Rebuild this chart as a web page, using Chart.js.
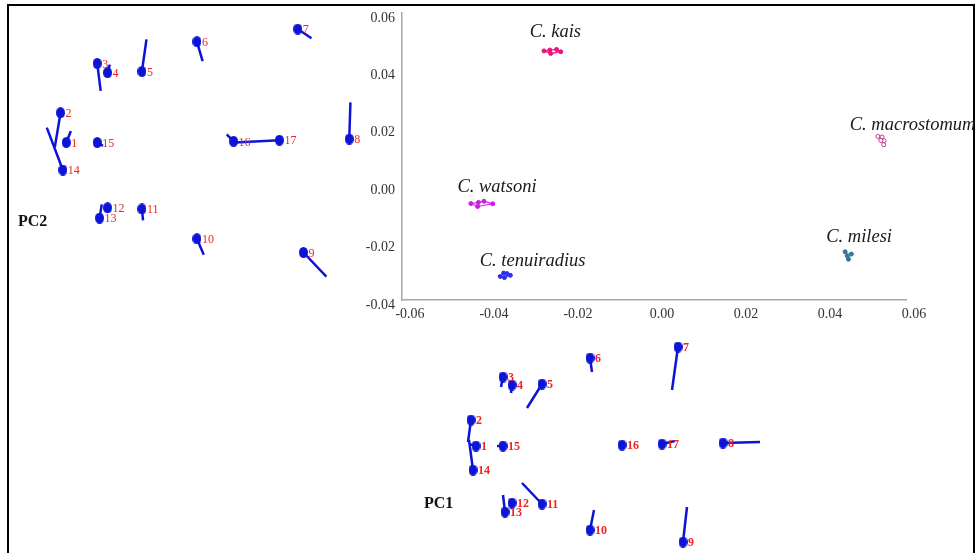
<!DOCTYPE html>
<html lang="en">
<head>
  <meta charset="UTF-8">
  <title>PCA of shape - Coilia species</title>
  <script src="https://cdn.jsdelivr.net/npm/chart.js"></script>
  <style>
    body {
      margin: 0;
      width: 976px;
      height: 553px;
      overflow: hidden;
      background: #fff;
      position: relative;
      font-family: "Liberation Serif", serif;
    }
    .frame {
      position: absolute;
      left: 7px;
      top: 4px;
      width: 964px;
      height: 560px;
      border: 2px solid #000;
      border-bottom: none;
    }
    canvas, .pc {
      position: absolute;
    }
    .pc {
      font-weight: bold;
      font-size: 16px;
      color: #111;
    }
  </style>
</head>
<body>
  <div class="frame"></div>
  <canvas id="scoreChart" width="976" height="553" style="left:0;top:0"></canvas>
  <canvas id="pc2Chart" width="401" height="275" style="left:9px;top:5px"></canvas>
  <canvas id="pc1Chart" width="360" height="220" style="left:416px;top:336px"></canvas>
  <div class="pc" style="left:18px;top:212px">PC2</div>
  <div class="pc" style="left:424px;top:494px">PC1</div>

  <script>
    // scores per species (PC1, PC2)
    const speciesNames = ['C. kais', 'C. watsoni', 'C. tenuiradius', 'C. macrostomum', 'C. milesi'];
    const kaisX = [-0.0262, -0.0248, -0.0232, -0.0222, -0.0246];
    const kaisY = [0.0468, 0.0471, 0.0473, 0.0465, 0.0459];
    const watsoniX = [-0.0436, -0.0418, -0.0405, -0.0384, -0.0420];
    const watsoniY = [-0.0064, -0.0060, -0.0056, -0.0065, -0.0074];
    const tenuiX = [-0.0366, -0.0358, -0.0350, -0.0342, -0.0356];
    const tenuiY = [-0.0318, -0.0306, -0.0308, -0.0314, -0.0322];
    const macroX = [0.0533, 0.0543, 0.0548, 0.0547, 0.0540];
    const macroY = [0.0170, 0.0168, 0.0155, 0.0141, 0.0156];
    const milesiX = [0.0455, 0.0470, 0.0463, 0.0460];
    const milesiY = [-0.0232, -0.0240, -0.0258, -0.0246];

    // where each species name sits (data units, left edge / middle)
    const nameX = [-0.0296, -0.0468, -0.0415, 0.0466, 0.0410];
    const nameY = [0.0534, -0.0007, -0.0263, 0.0210, -0.0181];

    const xTickValues = [-0.06, -0.04, -0.02, 0.00, 0.02, 0.04, 0.06];
    const xTickLabels = ['-0.06', '-0.04', '-0.02', '0.00', '0.02', '0.04', '0.06'];
    const yTickValues = [-0.04, -0.02, 0.00, 0.02, 0.04, 0.06];
    const yTickLabels = ['-0.04', '-0.02', '0.00', '0.02', '0.04', '0.06'];

    // mean landmark configuration (17 landmarks) and shape change along each PC
    const meanX = [0, -5, 27, 36, 66, 114, 202, 247, 207, 114, 66, 36, 29, -3, 27, 146, 186];
    const meanY = [0, 26, 69, 61, 62, 88, 99, 3, -96, -84, -58, -57, -66, -24, 0, 1, 2];
    const pc1dX = [-7, -3, -2, -1, -15, 2, -6, 37, 4, 4, -20, 0, -2, -4, -6, 0, 13];
    const pc1dY = [2, -22, -10, -8, -24, -14, -43, 1, 35, 20, 21, 0, 17, 30, 0, 0, 3];
    const pc2dX = [4, -5, 3, 2, 4, 5, 12, 1, 20, 6, 1, 0, 2, -14, 5, -6, -39];
    const pc2dY = [10, -30, -24, 7, 28, -17, -8, 32, -21, -14, -10, 0, 12, 37, -3, 6, -2];

    const toPoints = (xs, ys) => xs.map((x, i) => ({ x: x, y: ys[i] }));
    const closed = (xs, ys) => toPoints(xs, ys).concat([{ x: xs[0], y: ys[0] }]);

    const groups = [
      { xs: kaisX, ys: kaisY, hull: '#ee2a86', dot: '#e8157a', fill: '#e8157a' },
      { xs: watsoniX, ys: watsoniY, hull: '#d83cf0', dot: '#c81ee0', fill: '#c81ee0' },
      { xs: tenuiX, ys: tenuiY, hull: '#5a5af5', dot: '#2f2fee', fill: '#2f2fee' },
      { xs: macroX, ys: macroY, hull: '#f0a830', dot: '#c2389c', fill: '#ffffff' },
      { xs: milesiX, ys: milesiY, hull: '#6fe6e6', dot: '#3f6f98', fill: '#3f6f98' }
    ];

    const scoreSets = [];
    groups.forEach(g => {
      scoreSets.push({
        data: toPoints(g.xs, g.ys),
        pointRadius: 2,
        pointBorderWidth: 1,
        pointBackgroundColor: g.fill,
        pointBorderColor: g.dot,
        showLine: false,
        order: 0
      });
      scoreSets.push({
        data: closed(g.xs, g.ys),
        showLine: true,
        borderColor: g.hull,
        borderWidth: 1.3,
        pointRadius: 0,
        order: 1
      });
    });

    const serif = '"Liberation Serif", "Times New Roman", serif';

    const nameLabels = {
      id: 'nameLabels',
      afterDatasetsDraw(chart) {
        const c = chart.ctx;
        const sx = chart.scales.x, sy = chart.scales.y;
        c.save();
        c.font = 'italic 18.5px ' + serif;
        c.fillStyle = '#1a1a1a';
        c.textAlign = 'left';
        c.textBaseline = 'middle';
        speciesNames.forEach((n, i) => {
          c.fillText(n, sx.getPixelForValue(nameX[i]), sy.getPixelForValue(nameY[i]));
        });
        c.restore();
      }
    };

    // tick marks kept for spacing but not visible
    const hiddenTicks = { display: true, drawOnChartArea: false, tickLength: 3, color: 'rgba(0,0,0,0)' };

    new Chart(document.getElementById('scoreChart'), {
      type: 'scatter',
      data: { datasets: scoreSets },
      options: {
        responsive: false,
        animation: false,
        layout: { padding: { top: 13, right: 70, bottom: 0, left: 0 }, autoPadding: false },
        plugins: { legend: { display: false }, tooltip: { enabled: false } },
        scales: {
          x: {
            type: 'linear',
            min: -0.06,
            max: 0.06,
            afterBuildTicks: s => { s.ticks = xTickValues.map(v => ({ value: v })); },
            afterFit: s => { s.height = 253; },
            grid: hiddenTicks,
            border: { display: true, color: '#a8a8a8', width: 1.5 },
            ticks: {
              labelOffset: 8,
              padding: 3,
              maxRotation: 0,
              color: '#333',
              font: { family: serif, size: 14 },
              callback: (v, i) => xTickLabels[i]
            }
          },
          y: {
            type: 'linear',
            min: -0.04,
            max: 0.06,
            afterBuildTicks: s => { s.ticks = yTickValues.map(v => ({ value: v })); },
            afterFit: s => { s.width = 402; },
            grid: hiddenTicks,
            border: { display: true, color: '#a8a8a8', width: 1.5 },
            ticks: {
              labelOffset: 5,
              padding: 4,
              color: '#333',
              font: { family: serif, size: 14 },
              callback: (v, i) => yTickLabels[i]
            }
          }
        }
      },
      plugins: [nameLabels]
    });

    // oval landmark marker
    function makeDot(w, h) {
      const cv = document.createElement('canvas');
      cv.width = w;
      cv.height = h;
      const c = cv.getContext('2d');
      c.fillStyle = '#0d14d6';
      c.beginPath();
      c.ellipse(w / 2, h / 2, w / 2, h / 2, 0, 0, Math.PI * 2);
      c.fill();
      return cv;
    }

    function drawDiagram(id, dx, dy, xr, yr, dot, labelFont) {
      const vectors = [];
      meanX.forEach((x, i) => {
        vectors.push({ x: x, y: meanY[i] });
        vectors.push({ x: x + dx[i], y: meanY[i] + dy[i] });
        vectors.push({ x: x, y: null });
      });
      const numbers = {
        id: 'numbers',
        afterDatasetsDraw(chart) {
          const c = chart.ctx;
          const sx = chart.scales.x, sy = chart.scales.y;
          c.save();
          c.font = labelFont;
          c.fillStyle = '#f02424';
          c.textBaseline = 'middle';
          meanX.forEach((x, i) => {
            c.fillText(String(i + 1), sx.getPixelForValue(x) + 5, sy.getPixelForValue(meanY[i]) + 1);
          });
          c.restore();
        }
      };
      new Chart(document.getElementById(id), {
        type: 'scatter',
        data: {
          datasets: [
            {
              data: toPoints(meanX, meanY),
              pointStyle: dot,
              pointRadius: 5,
              showLine: false,
              clip: false,
              order: 0
            },
            {
              data: vectors,
              showLine: true,
              spanGaps: false,
              borderColor: '#0d14d6',
              borderWidth: 2.5,
              pointRadius: 0,
              clip: false,
              order: 1
            }
          ]
        },
        options: {
          responsive: false,
          animation: false,
          layout: { padding: 0, autoPadding: false },
          plugins: { legend: { display: false }, tooltip: { enabled: false } },
          scales: {
            x: { type: 'linear', display: false, min: xr[0], max: xr[1] },
            y: { type: 'linear', display: false, min: yr[0], max: yr[1] }
          }
        },
        plugins: [numbers]
      });
    }

    drawDiagram('pc2Chart', pc2dX, pc2dY, [-50, 300], [-120, 120], makeDot(9, 11), '12px ' + serif);
    drawDiagram('pc1Chart', pc1dX, pc1dY, [-60, 300], [-110, 110], makeDot(9, 11), 'bold 12px ' + serif);
  </script>
</body>
</html>
